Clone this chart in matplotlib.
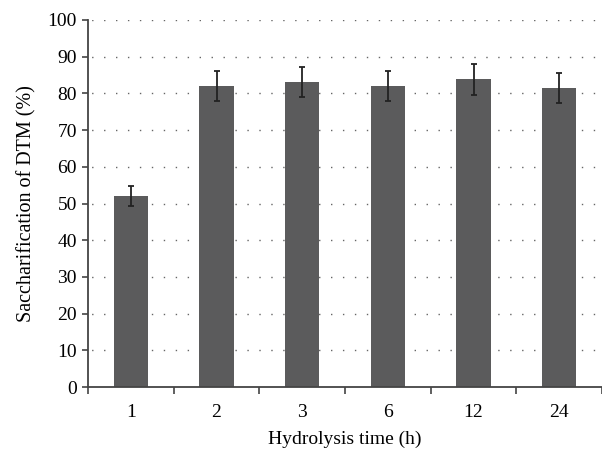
from matplotlib import pyplot as plt

times = ['1', '2', '3', '6', '12', '24']
saccharification = [52.0, 82.0, 83.1, 82.0, 83.9, 81.5]
errors = [2.8, 4.1, 4.2, 4.1, 4.2, 4.1]
yticks = [0, 10, 20, 30, 40, 50, 60, 70, 80, 90, 100]

plt.rcParams['font.family'] = ['Liberation Serif', 'DejaVu Serif']

fig = plt.figure(figsize=(6.02, 4.55), dpi=100)
ax = fig.add_axes([88 / 602, 68 / 455, 1 - 88 / 602, 367 / 455])

x = list(range(len(times)))
ax.bar(x, saccharification, width=0.4, color='#5b5b5c', zorder=2)
ax.errorbar(x, saccharification, yerr=errors, fmt='none', ecolor='#222222',
            elinewidth=1.3, capsize=2.5, capthick=1.3, zorder=3)

# dotted horizontal grid, skipping the baseline
for v in yticks[1:]:
    ax.axhline(v, color='#666666', linestyle=(6, (1.0, 7.6)), linewidth=1.0, zorder=1)

ax.set_xlim(-0.5, 5.4)
ax.set_ylim(0, 100)
ax.set_yticks(yticks)
ax.set_xticks([i + 0.5 for i in range(-1, 6)], minor=False)
ax.set_xticklabels([])
ax.set_xticks(x, minor=True)
ax.set_xticklabels(times, minor=True)
ax.tick_params(axis='x', which='minor', length=0, pad=12, labelsize=14)
ax.tick_params(axis='x', which='major', length=5, width=1.2, color='#444444', direction='out')
ax.tick_params(axis='y', length=4, width=1.2, color='#444444', labelsize=14, pad=4)

for side in ['top', 'right']:
    ax.spines[side].set_visible(False)
for side in ['left', 'bottom']:
    ax.spines[side].set_color('#444444')
    ax.spines[side].set_linewidth(1.3)

ax.set_xlabel('Hydrolysis time (h)', fontsize=14, labelpad=7)
ax.set_ylabel('Saccharification of DTM (%)', fontsize=14.5, labelpad=8)

fig.savefig('out.png', dpi=100)
